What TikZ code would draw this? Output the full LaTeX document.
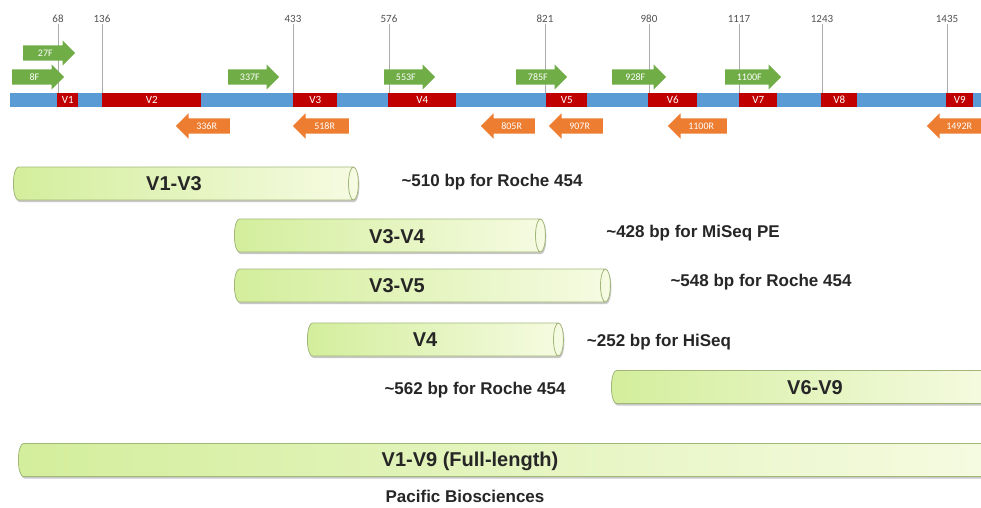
\documentclass[tikz,border=0pt]{standalone}
\usepackage{fontspec}
\setmainfont{Liberation Sans}
\newfontfamily\calib{Carlito}
\usetikzlibrary{shapes.geometric,shapes.arrows,shadows}
\definecolor{barblue}{HTML}{5B9BD5}
\definecolor{regred}{HTML}{C00000}
\definecolor{fwdgreen}{HTML}{70AD47}
\definecolor{revorange}{HTML}{ED7D31}
\definecolor{tubeL}{HTML}{D3EE9C}
\definecolor{tubeR}{HTML}{F6FBE2}
\definecolor{tubeline}{HTML}{A3B67A}
\definecolor{ticgray}{HTML}{ABABAB}
\definecolor{inkgray}{HTML}{262626}
\tikzset{
  region/.style={fill=regred, text=white, font=\calib\fontsize{11}{11}\selectfont,
    inner sep=0pt, minimum height=14pt, anchor=west},
  primer/.style={single arrow, single arrow head extend=5pt, inner xsep=2pt,
    inner ysep=4.5pt, text height=6pt, text depth=0pt, text=white,
    font=\calib\fontsize{10}{10}\selectfont, anchor=tail},
  fwd/.style={primer, fill=fwdgreen},
  rev/.style={primer, fill=revorange, shape border rotate=180},
  tube/.style={cylinder, shape aspect=0.3, draw=tubeline, line width=0.8pt,
    left color=tubeL, right color=tubeR, text height=33pt, text depth=0pt,
    inner sep=0pt, anchor=west, drop shadow={shadow xshift=1pt,
    shadow yshift=-2pt, opacity=0.3, fill=black!70}},
  amplab/.style={font=\bfseries\fontsize{20}{20}\selectfont, text=inkgray},
  note/.style={font=\bfseries\fontsize{17}{17}\selectfont, text=inkgray},
}
\begin{document}
\begin{tikzpicture}[x=1pt,y=-1pt]
    \useasboundingbox (0,0) rectangle (981,507);
    \fill[white] (0,0) rectangle (981,507);
    \clip (0,0) rectangle (981,507);
    % 16S gene
    \node[fill=barblue, minimum width=980pt, minimum height=14pt, inner sep=0pt,
      anchor=west] (gene) at (10,100) {};
    % Positions
    \foreach \n/\x in {68/58,136/102,433/293,576/389,821/545,980/649,1117/739,1243/822,1435/947}{
        \node[font=\calib\fontsize{11}{11}\selectfont, text=inkgray!80, inner sep=1pt]
          (t\n) at (\x,19) {\n};
        \draw[ticgray, line width=1pt] (t\n.south) -- (t\n.south |- gene.north);
    }
    % Variable regions
    \foreach \n/\a/\b in {1/57/78,2/102/201,3/293/337,4/388/456,5/546/587,6/648/697,7/739/777,8/821/857,9/946/973}
        \node[region, minimum width=(\b-\a)*1pt] (v\n) at (\a,100) {V\n};
    % Forward primers
    \foreach \n/\x/\y/\len in {27F/23/53/52,8F/12/77/52,337F/228/77/51,553F/384/77/51,785F/516/77/51,928F/612/77/54,1100F/725/77/56}
        \node[fwd, minimum height=\len pt] (p\n) at (\x,\y) {\n};
    % Reverse primers
    \foreach \n/\x/\len in {336R/230/54,518R/349/56,805R/535/54,907R/603/54,1100R/727/59,1492R/984/57}
        \node[rev, minimum height=\len pt] (p\n) at (\x,126) {\n};
    % Amplicons
    \foreach \n/\x/\y/\len in {a13/13/183.5/345,a34/234/235.5/311,a35/234/285.5/376,a4/307/339.5/256,a69/611/387/390,a19/18/460/985}
        \node[tube, minimum height=\len pt] (\n) at (\x,\y) {};
    \node[amplab] (l13) at (174,184) {V1-V3};
    \node[amplab] (l34) at (397,237) {V3-V4};
    \node[amplab] (l35) at (397,286) {V3-V5};
    \node[amplab] (l4) at (425,340) {V4};
    \node[amplab] (l69) at (815,388) {V6-V9};
    \node[amplab] (l19) at (470,461) {V1-V9 (Full-length)};
    % Platforms
    \node[note] (n13) at (492,182) {\textasciitilde510 bp for Roche 454};
    \node[note] (n34) at (693,233) {\textasciitilde428 bp for MiSeq PE};
    \node[note] (n35) at (761,282) {\textasciitilde548 bp for Roche 454};
    \node[note] (n4) at (659,342) {\textasciitilde252 bp for HiSeq};
    \node[note] (n69) at (475,390) {\textasciitilde562 bp for Roche 454};
    \node[note] (n19) at (465,496) {Pacific Biosciences};
\end{tikzpicture}
\end{document}
